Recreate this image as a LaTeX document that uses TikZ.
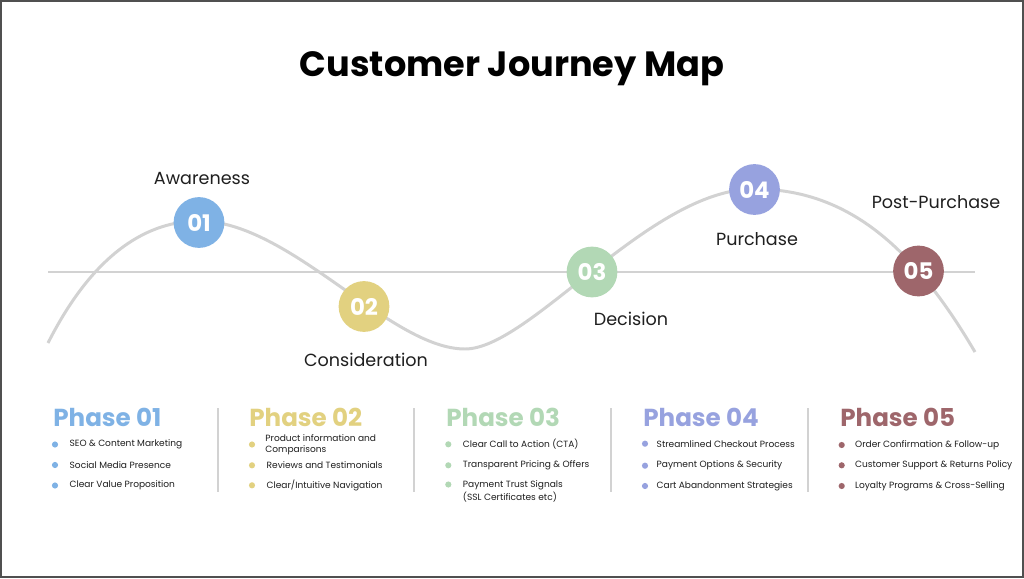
\documentclass[tikz,border=0pt]{standalone}
\usepackage{fontspec}
\setmainfont{Poppins}
\usepackage{xcolor}
\usepackage{tikz}
\usetikzlibrary{positioning}

\definecolor{ink}{HTML}{1F1F1F}
\definecolor{track}{HTML}{D2D2D2}
\definecolor{frame}{HTML}{505050}
\definecolor{phaseA}{HTML}{7FB2E5}
\definecolor{phaseB}{HTML}{E2D180}
\definecolor{phaseC}{HTML}{B2D8B5}
\definecolor{phaseD}{HTML}{97A2DF}
\definecolor{phaseE}{HTML}{9E666B}

\begin{document}
\begin{tikzpicture}[
    x=0.02cm, y=-0.02cm,
    node distance = 3pt and 6.2pt,
    stepnum/.style   = {circle, minimum size=28.9pt, inner sep=0pt, text=white,
                        font=\fontsize{13}{14}\selectfont\bfseries},
    stage/.style     = {inner sep=0pt, text=ink, font=\fontsize{10}{12}\selectfont},
    phasehead/.style = {anchor=west, inner sep=0pt,
                        font=\fontsize{14}{16}\selectfont\bfseries},
    dot/.style       = {circle, minimum size=3.5pt, inner sep=0pt},
    item/.style      = {inner sep=0pt, align=left, text=ink,
                        font=\fontsize{5.15}{6.2}\selectfont},
    wave/.style      = {draw=track, line width=1.7pt},
    divider/.style   = {draw=track, line width=1.1pt}
]
\useasboundingbox (0,0) rectangle (1024,578);
\fill[white] (0,0) rectangle (1024,578);
\draw[draw=frame, line width=1.25pt] (1.1,1.1) rectangle (1022.9,576.9);

%% Title
\node[text=black, font=\fontsize{20}{24}\selectfont\bfseries] (title) at (512,68.5)
    {Customer Journey Map};

%% Base line and wave
\coordinate (lineL) at (48,272);
\coordinate (lineR) at (975,272);
\coordinate (w0) at (48,343);
\coordinate (w1) at (199,221);
\coordinate (w2) at (465,349);
\coordinate (w3) at (754,189);
\coordinate (w4) at (975,352);
\draw[wave] (lineL) -- (lineR);
\draw[wave] (w0) .. controls (95,250) and (150,221) .. (w1)
                 .. controls (290,221) and (390,349) .. (w2)
                 .. controls (530,349) and (650,189) .. (w3)
                 .. controls (850,189) and (915,250) .. (w4);

%% Stage circles
\node[stepnum, fill=phaseA] (c01) at (199,222.5) {01};
\node[stepnum, fill=phaseB] (c02) at (364,306.5) {02};
\node[stepnum, fill=phaseC] (c03) at (592,272)   {03};
\node[stepnum, fill=phaseD] (c04) at (754.5,189.5) {04};
\node[stepnum, fill=phaseE] (c05) at (918.5,271) {05};

%% Stage labels
\node[stage] (awareness) at (202,178.5) {Awareness};
\node[stage] (consider)  at (366,360)   {Consideration};
\node[stage] (decision)  at (631,319)   {Decision};
\node[stage] (purchase)  at (757,239.5) {Purchase};
\node[stage] (postbuy)   at (936,202)   {Post-Purchase};

%% Column dividers
\draw[divider] (218,408) -- (218,492);
\draw[divider] (414,408) -- (414,492);
\draw[divider] (611,408) -- (611,492);
\draw[divider] (808,408) -- (808,492);

%% Phase 01
\node[phasehead, text=phaseA] (h1) at (53,417) {Phase 01};
\node[dot, fill=phaseA] (d11) at (55,444.5) {};
\node[dot, fill=phaseA] (d12) at (55,465)   {};
\node[dot, fill=phaseA] (d13) at (55,485.5) {};
\node[item, right=of d11] (t11) {SEO \& Content Marketing};
\node[item, right=of d12] (t12) {Social Media Presence};
\node[item, right=of d13] (t13) {Clear Value Proposition};

%% Phase 02
\node[phasehead, text=phaseB] (h2) at (249,417) {Phase 02};
\node[dot, fill=phaseB] (d21) at (252,444.5) {};
\node[dot, fill=phaseB] (d22) at (252,465.3) {};
\node[dot, fill=phaseB] (d23) at (252,485.3) {};
\node[item, right=5.5pt of d21] (t21) {Product information and\\Comparisons};
\node[item, right=of d22] (t22) {Reviews and Testimonials};
\node[item, right=of d23] (t23) {Clear/Intuitive Navigation};

%% Phase 03
\node[phasehead, text=phaseC] (h3) at (446,417) {Phase 03};
\node[dot, fill=phaseC] (d31) at (448.3,444.3) {};
\node[dot, fill=phaseC] (d32) at (448.3,465.3) {};
\node[dot, fill=phaseC] (d33) at (448.3,484.5) {};
\node[item, right=of d31] (t31) {Clear Call to Action (CTA)};
\node[item, right=of d32] (t32) {Transparent Pricing \& Offers};
\node[item, right=of d33, yshift=-3.9pt] (t33) {Payment Trust Signals\\(SSL Certificates etc)};

%% Phase 04
\node[phasehead, text=phaseD] (h4) at (643,417) {Phase 04};
\node[dot, fill=phaseD] (d41) at (645,443.7) {};
\node[dot, fill=phaseD] (d42) at (645,465.7) {};
\node[dot, fill=phaseD] (d43) at (645,486)   {};
\node[item, right=4.5pt of d41] (t41) {Streamlined Checkout Process};
\node[item, right=4.5pt of d42] (t42) {Payment Options \& Security};
\node[item, right=4.5pt of d43] (t43) {Cart Abandonment Strategies};

%% Phase 05
\node[phasehead, text=phaseE] (h5) at (840,417) {Phase 05};
\node[dot, fill=phaseE] (d51) at (841.7,445)   {};
\node[dot, fill=phaseE] (d52) at (841.7,465.3) {};
\node[dot, fill=phaseE] (d53) at (841.7,486)   {};
\node[item, right=5.5pt of d51] (t51) {Order Confirmation \& Follow-up};
\node[item, right=5.5pt of d52] (t52) {Customer Support \& Returns Policy};
\node[item, right=5.5pt of d53] (t53) {Loyalty Programs \& Cross-Selling};

\end{tikzpicture}
\end{document}
